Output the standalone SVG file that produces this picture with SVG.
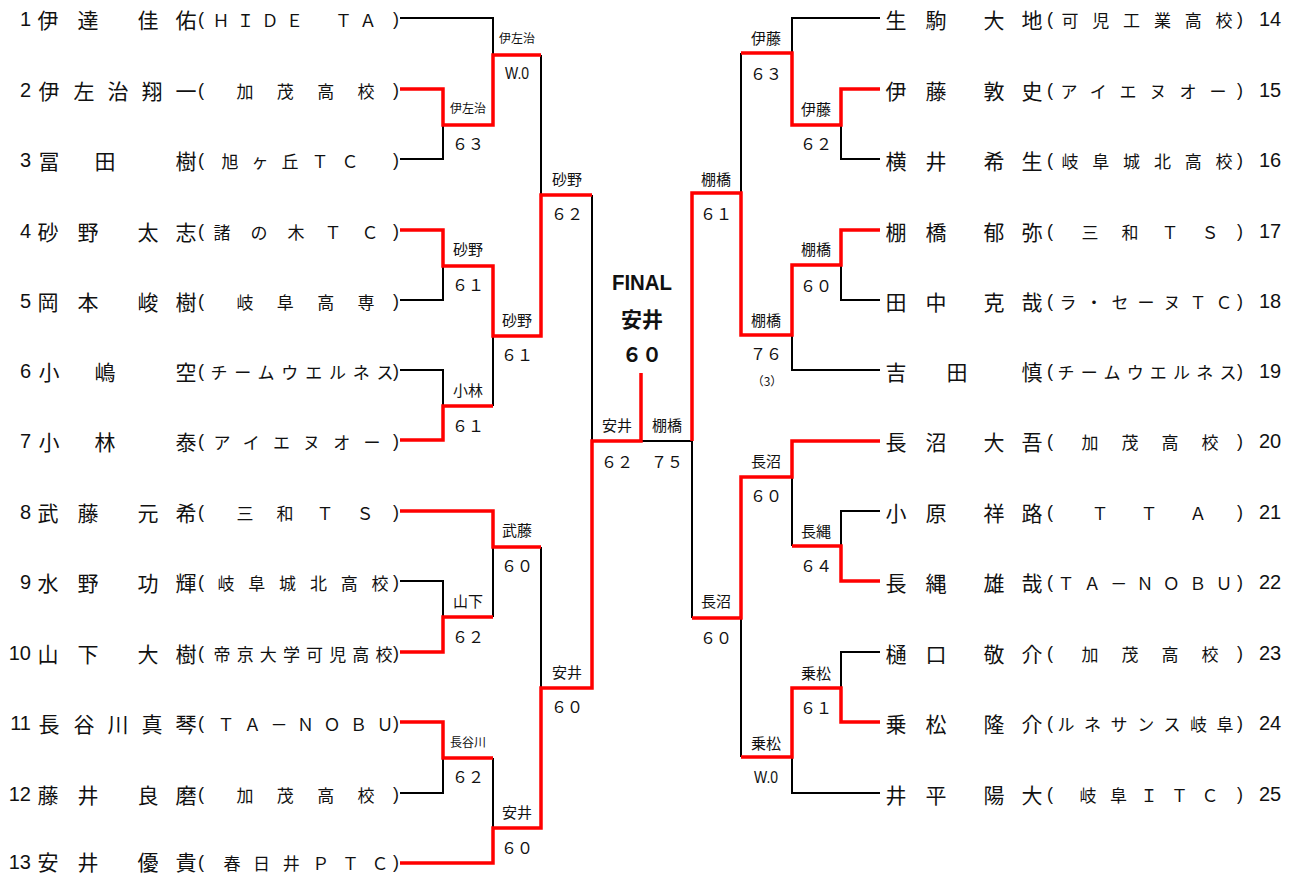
<svg xmlns="http://www.w3.org/2000/svg" width="1295" height="874" viewBox="0 0 1295 874">
<style>
text{font-family:"Noto Sans CJK JP","Noto Sans CJK SC",sans-serif;fill:#111;dominant-baseline:central}
.nm{font-size:21px;text-anchor:middle}
.cl{font-size:17px}
.pr{font-family:"Liberation Sans",sans-serif;font-size:18px;text-anchor:middle}
.no{font-family:"Liberation Sans",sans-serif;font-size:20px}
.lb{font-size:15px;text-anchor:middle}
.ls{font-size:12px;text-anchor:middle}
.sc{font-size:16px;text-anchor:middle}
.wo{font-family:"Liberation Sans",sans-serif;font-size:17px;text-anchor:middle}
.k{stroke:#000;stroke-width:2;fill:none}
.r{stroke:#f00;stroke-width:3.5;fill:none;stroke-linejoin:miter}
</style>
<rect width="1295" height="874" fill="#fff"/>
<g id="connectors">
<path class="k" d="M400,18H493V55M400,159H443V125M400,300H443V266M400,370H443V406M493,406V336M400,581H443V617M493,617V547M400,793H443V758M493,758V828M541,55V195M541,547V688M592,195V441M641,441H692"/>
<path class="k" d="M880,18H792V53M880,159H841V125M741,53V193M880,300H841V265M880,370H792V335M692,618V441M880,511H841V546M792,546V477M880,652H841V688M741,757V618M880,793H792V757"/>
<path class="r" d="M400,89H443V125H493V55H541"/>
<path class="r" d="M400,230H443V266H493V336H541V195H592"/>
<path class="r" d="M400,440H443V406H493"/>
<path class="r" d="M400,511H493V547H541"/>
<path class="r" d="M400,652H443V617H493"/>
<path class="r" d="M400,722H443V758H493"/>
<path class="r" d="M400,863H493V828H541V688H592V441H641V373"/>
<path class="r" d="M880,89H841V125H792V53H741"/>
<path class="r" d="M880,230H841V265H792V335H741V193H692V441"/>
<path class="r" d="M880,441H792V477H741V618H692"/>
<path class="r" d="M880,581H841V546H792"/>
<path class="r" d="M880,722H841V688H792V757H741"/>
</g>
<g id="p1"><text class="no" x="31" y="19" text-anchor="end">1</text><text class="nm" x="48 88 148 186" y="19">伊達佳佑</text><text class="pr" x="201" y="19">(</text><text class="cl" x="212.5" y="19" textLength="164" lengthAdjust="spacing">ＨＩＤＥ　ＴＡ</text><text class="pr" x="396" y="19">)</text></g>
<g id="p2"><text class="no" x="31" y="90" text-anchor="end">2</text><text class="nm" x="49 84 118 152 186" y="90">伊左治翔一</text><text class="pr" x="201" y="90">(</text><text class="cl" x="236.5" y="90" textLength="138" lengthAdjust="spacing">加茂高校</text><text class="pr" x="396" y="90">)</text></g>
<g id="p3"><text class="no" x="31" y="160" text-anchor="end">3</text><text class="nm" x="49 105 186" y="160">冨田樹</text><text class="pr" x="201" y="160">(</text><text class="cl" x="221.5" y="160" textLength="137" lengthAdjust="spacing">旭ヶ丘ＴＣ</text><text class="pr" x="396" y="160">)</text></g>
<g id="p4"><text class="no" x="31" y="231" text-anchor="end">4</text><text class="nm" x="48 88 148 186" y="231">砂野太志</text><text class="pr" x="201" y="231">(</text><text class="cl" x="213.5" y="231" textLength="165" lengthAdjust="spacing">諸の木ＴＣ</text><text class="pr" x="396" y="231">)</text></g>
<g id="p5"><text class="no" x="31" y="301" text-anchor="end">5</text><text class="nm" x="48 88 148 186" y="301">岡本峻樹</text><text class="pr" x="201" y="301">(</text><text class="cl" x="236.5" y="301" textLength="138" lengthAdjust="spacing">岐阜高専</text><text class="pr" x="396" y="301">)</text></g>
<g id="p6"><text class="no" x="31" y="371" text-anchor="end">6</text><text class="nm" x="49 105 186" y="371">小嶋空</text><text class="pr" x="201" y="371">(</text><text class="cl" x="210.5" y="371" textLength="183" lengthAdjust="spacing">チームウエルネス</text><text class="pr" x="396" y="371">)</text></g>
<g id="p7"><text class="no" x="31" y="441" text-anchor="end">7</text><text class="nm" x="49 105 186" y="441">小林泰</text><text class="pr" x="201" y="441">(</text><text class="cl" x="213.5" y="441" textLength="167" lengthAdjust="spacing">アイエヌオー</text><text class="pr" x="396" y="441">)</text></g>
<g id="p8"><text class="no" x="31" y="512" text-anchor="end">8</text><text class="nm" x="48 88 148 186" y="512">武藤元希</text><text class="pr" x="201" y="512">(</text><text class="cl" x="236.5" y="512" textLength="137" lengthAdjust="spacing">三和ＴＳ</text><text class="pr" x="396" y="512">)</text></g>
<g id="p9"><text class="no" x="31" y="582" text-anchor="end">9</text><text class="nm" x="48 88 148 186" y="582">水野功輝</text><text class="pr" x="201" y="582">(</text><text class="cl" x="217.5" y="582" textLength="171" lengthAdjust="spacing">岐阜城北高校</text><text class="pr" x="396" y="582">)</text></g>
<g id="p10"><text class="no" x="31" y="653" text-anchor="end">10</text><text class="nm" x="48 88 148 186" y="653">山下大樹</text><text class="pr" x="201" y="653">(</text><text class="cl" x="213.5" y="653" textLength="179" lengthAdjust="spacing">帝京大学可児高校</text><text class="pr" x="396" y="653">)</text></g>
<g id="p11"><text class="no" x="31" y="723" text-anchor="end">11</text><text class="nm" x="49 84 118 152 186" y="723">長谷川真琴</text><text class="pr" x="201" y="723">(</text><text class="cl" x="217.5" y="723" textLength="176" lengthAdjust="spacing">ＴＡ－ＮＯＢＵ</text><text class="pr" x="396" y="723">)</text></g>
<g id="p12"><text class="no" x="31" y="794" text-anchor="end">12</text><text class="nm" x="48 88 148 186" y="794">藤井良磨</text><text class="pr" x="201" y="794">(</text><text class="cl" x="236.5" y="794" textLength="138" lengthAdjust="spacing">加茂高校</text><text class="pr" x="396" y="794">)</text></g>
<g id="p13"><text class="no" x="31" y="862" text-anchor="end">13</text><text class="nm" x="48 88 148 186" y="861">安井優貴</text><text class="pr" x="201" y="862">(</text><text class="cl" x="223.5" y="862" textLength="165" lengthAdjust="spacing">春日井ＰＴＣ</text><text class="pr" x="396" y="862">)</text></g>
<g id="p14"><text class="nm" x="896 936 994 1032" y="19">生駒大地</text><text class="pr" x="1050" y="19">(</text><text class="cl" x="1061.5" y="19" textLength="171" lengthAdjust="spacing">可児工業高校</text><text class="pr" x="1240" y="19">)</text><text class="no" x="1259" y="19">14</text></g>
<g id="p15"><text class="nm" x="896 936 994 1032" y="90">伊藤敦史</text><text class="pr" x="1050" y="90">(</text><text class="cl" x="1060.5" y="90" textLength="166" lengthAdjust="spacing">アイエヌオー</text><text class="pr" x="1240" y="90">)</text><text class="no" x="1259" y="90">15</text></g>
<g id="p16"><text class="nm" x="896 936 994 1032" y="160">横井希生</text><text class="pr" x="1050" y="160">(</text><text class="cl" x="1061.5" y="160" textLength="171" lengthAdjust="spacing">岐阜城北高校</text><text class="pr" x="1240" y="160">)</text><text class="no" x="1259" y="160">16</text></g>
<g id="p17"><text class="nm" x="896 936 994 1032" y="231">棚橋郁弥</text><text class="pr" x="1050" y="231">(</text><text class="cl" x="1081.5" y="231" textLength="137" lengthAdjust="spacing">三和ＴＳ</text><text class="pr" x="1240" y="231">)</text><text class="no" x="1259" y="231">17</text></g>
<g id="p18"><text class="nm" x="896 936 994 1032" y="301">田中克哉</text><text class="pr" x="1050" y="301">(</text><text class="cl" x="1059.5" y="301" textLength="173" lengthAdjust="spacing">ラ・セーヌＴＣ</text><text class="pr" x="1240" y="301">)</text><text class="no" x="1259" y="301">18</text></g>
<g id="p19"><text class="nm" x="896 957 1032" y="371">吉田慎</text><text class="pr" x="1050" y="371">(</text><text class="cl" x="1057.5" y="371" textLength="179" lengthAdjust="spacing">チームウエルネス</text><text class="pr" x="1240" y="371">)</text><text class="no" x="1259" y="371">19</text></g>
<g id="p20"><text class="nm" x="896 936 994 1032" y="441">長沼大吾</text><text class="pr" x="1050" y="441">(</text><text class="cl" x="1081.5" y="441" textLength="137" lengthAdjust="spacing">加茂高校</text><text class="pr" x="1240" y="441">)</text><text class="no" x="1259" y="441">20</text></g>
<g id="p21"><text class="nm" x="896 936 994 1032" y="512">小原祥路</text><text class="pr" x="1050" y="512">(</text><text class="cl" x="1091.5" y="512" textLength="115" lengthAdjust="spacing">ＴＴＡ</text><text class="pr" x="1240" y="512">)</text><text class="no" x="1259" y="512">21</text></g>
<g id="p22"><text class="nm" x="896 936 994 1032" y="582">長縄雄哉</text><text class="pr" x="1050" y="582">(</text><text class="cl" x="1057.5" y="582" textLength="175" lengthAdjust="spacing">ＴＡ－ＮＯＢＵ</text><text class="pr" x="1240" y="582">)</text><text class="no" x="1259" y="582">22</text></g>
<g id="p23"><text class="nm" x="896 936 994 1032" y="653">樋口敬介</text><text class="pr" x="1050" y="653">(</text><text class="cl" x="1081.5" y="653" textLength="137" lengthAdjust="spacing">加茂高校</text><text class="pr" x="1240" y="653">)</text><text class="no" x="1259" y="653">23</text></g>
<g id="p24"><text class="nm" x="896 936 994 1032" y="723">乗松隆介</text><text class="pr" x="1050" y="723">(</text><text class="cl" x="1057.5" y="723" textLength="176" lengthAdjust="spacing">ルネサンス岐阜</text><text class="pr" x="1240" y="723">)</text><text class="no" x="1259" y="723">24</text></g>
<g id="p25"><text class="nm" x="896 936 994 1032" y="794">井平陽大</text><text class="pr" x="1050" y="794">(</text><text class="cl" x="1079.5" y="794" textLength="139" lengthAdjust="spacing">岐阜ＩＴＣ</text><text class="pr" x="1240" y="794">)</text><text class="no" x="1259" y="794">25</text></g>
<g id="results">
<text class="ls" x="468" y="107">伊左治</text><text class="sc" x="468" y="143">６３</text>
<text class="lb" x="468" y="248">砂野</text><text class="sc" x="468" y="284">６１</text>
<text class="lb" x="468" y="389">小林</text><text class="sc" x="468" y="425">６１</text>
<text class="lb" x="468" y="600">山下</text><text class="sc" x="468" y="636">６２</text>
<text class="ls" x="468" y="741">長谷川</text><text class="sc" x="468" y="776">６２</text>
<text class="ls" x="517" y="37">伊左治</text><text class="wo" x="517" y="73" textLength="24" lengthAdjust="spacingAndGlyphs">W.0</text>
<text class="lb" x="517" y="319">砂野</text><text class="sc" x="517" y="354">６１</text>
<text class="lb" x="517" y="529">武藤</text><text class="sc" x="517" y="565">６０</text>
<text class="lb" x="517" y="811">安井</text><text class="sc" x="517" y="847">６０</text>
<text class="lb" x="567" y="178">砂野</text><text class="sc" x="567" y="213">６２</text>
<text class="lb" x="567" y="671">安井</text><text class="sc" x="567" y="706">６０</text>
<text class="lb" x="617" y="424">安井</text><text class="sc" x="617" y="461">６２</text>
<text class="lb" x="667" y="424">棚橋</text><text class="sc" x="667" y="461">７５</text>
<text class="lb" x="716" y="178">棚橋</text><text class="sc" x="716" y="213">６１</text>
<text class="lb" x="716" y="600">長沼</text><text class="sc" x="716" y="637">６０</text>
<text class="lb" x="766" y="37">伊藤</text><text class="sc" x="766" y="73">６３</text>
<text class="lb" x="766" y="319">棚橋</text><text class="sc" x="766" y="353">７６</text><text class="ls" x="767" y="380">（3）</text>
<text class="lb" x="766" y="460">長沼</text><text class="sc" x="766" y="495">６０</text>
<text class="lb" x="766" y="742">乗松</text><text class="wo" x="766" y="777" textLength="24" lengthAdjust="spacingAndGlyphs">W.0</text>
<text class="lb" x="816" y="108">伊藤</text><text class="sc" x="816" y="143">６２</text>
<text class="lb" x="816" y="248">棚橋</text><text class="sc" x="816" y="285">６０</text>
<text class="lb" x="816" y="530">長縄</text><text class="sc" x="816" y="565">６４</text>
<text class="lb" x="816" y="672">乗松</text><text class="sc" x="816" y="707">６１</text>
</g>
<g id="final">
<text x="642" y="282" text-anchor="middle" style="font-family:'Liberation Sans',sans-serif;font-weight:bold;font-size:22px" textLength="60" lengthAdjust="spacingAndGlyphs">FINAL</text>
<text x="642" y="318" text-anchor="middle" style="font-weight:bold;font-size:21px">安井</text>
<text x="642" y="353" text-anchor="middle" style="font-weight:bold;font-size:20px">６０</text>
</g>
</svg>
